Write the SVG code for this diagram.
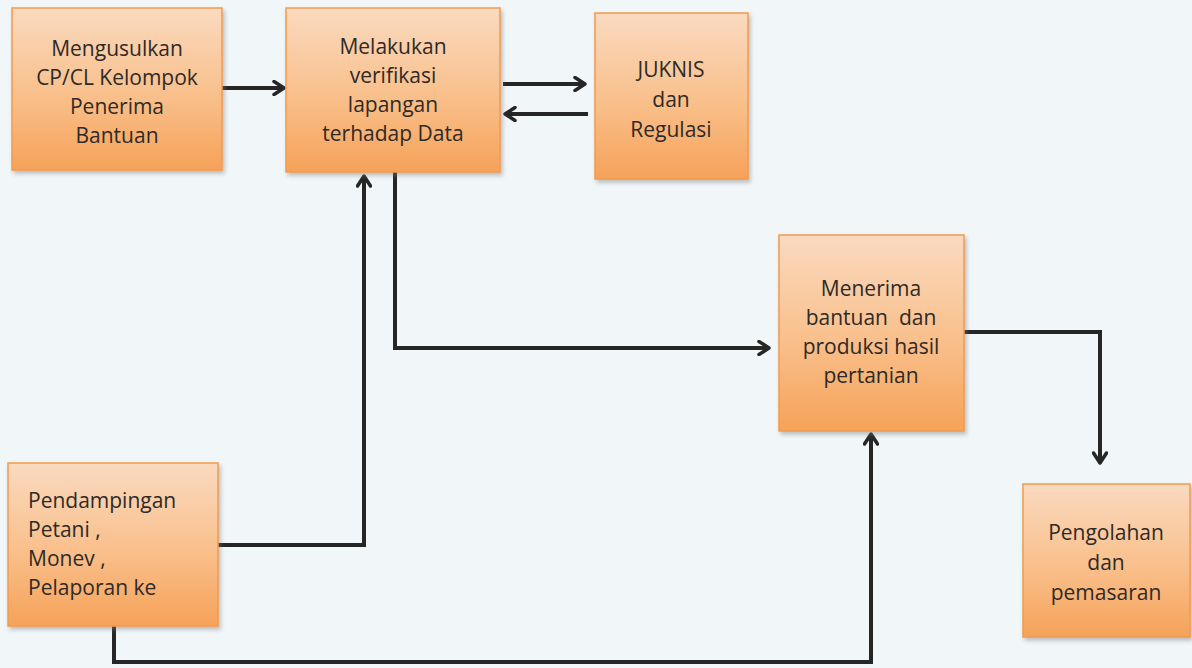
<svg xmlns="http://www.w3.org/2000/svg" width="1192" height="668" viewBox="0 0 1192 668">
  <defs>
    <linearGradient id="boxFill" x1="0" y1="0" x2="0" y2="1">
      <stop offset="0" stop-color="#fadac0"/>
      <stop offset="0.55" stop-color="#f9bf8a"/>
      <stop offset="1" stop-color="#f6a259"/>
    </linearGradient>
    <filter id="shadow" x="-10%" y="-10%" width="125%" height="125%">
      <feDropShadow dx="2" dy="3" stdDeviation="2" flood-color="#7a7a7a" flood-opacity="0.45"/>
    </filter>
    <marker id="arrow" viewBox="0 0 14 16" refX="12" refY="8" markerWidth="14" markerHeight="16" markerUnits="userSpaceOnUse" orient="auto">
      <path d="M2,1.5 L12,8 L2,14.5" fill="none" stroke="#262626" stroke-width="3.5" stroke-linecap="round" stroke-linejoin="round"/>
    </marker>
    <style>
      .box { fill: url(#boxFill); stroke: #f39a4c; stroke-width: 1.5; filter: url(#shadow); }
      .lbl { font-family: "Open Sans", "Liberation Sans", sans-serif; font-size: 21px; fill: #2e2a27; }
      .mid { text-anchor: middle; }
      .wire { fill: none; stroke: #262626; stroke-width: 4; stroke-linejoin: miter; }
      .wire.head { marker-end: url(#arrow); }
    </style>
  </defs>

  <!-- backdrop -->
  <rect width="1192" height="668" fill="#f1f6f9"/>

  <!-- connectors -->
  <g id="connectors">
    <path class="wire head" d="M222,88 H284"/>
    <path class="wire head" d="M503,84 H585"/>
    <path class="wire head" d="M588,114 H505"/>
    <path class="wire head" d="M395,172 V348 H769"/>
    <path class="wire head" d="M218,545 H364 V176"/>
    <path class="wire head" d="M114,626 V662 H871 V434"/>
    <path class="wire head" d="M964,332 H1100 V463"/>
  </g>

  <!-- Mengusulkan -->
  <g id="node-usulan">
    <rect class="box" x="12" y="8" width="210" height="162"/>
    <text class="lbl mid" x="117" y="56">Mengusulkan</text>
    <text class="lbl mid" x="117" y="85">CP/CL Kelompok</text>
    <text class="lbl mid" x="117" y="114">Penerima</text>
    <text class="lbl mid" x="117" y="143">Bantuan</text>
  </g>

  <!-- Verifikasi -->
  <g id="node-verifikasi">
    <rect class="box" x="286" y="8" width="214" height="164"/>
    <text class="lbl mid" x="393" y="54">Melakukan</text>
    <text class="lbl mid" x="393" y="83">verifikasi</text>
    <text class="lbl mid" x="393" y="112">lapangan</text>
    <text class="lbl mid" x="393" y="141">terhadap Data</text>
  </g>

  <!-- JUKNIS -->
  <g id="node-juknis">
    <rect class="box" x="595" y="13" width="153" height="166"/>
    <text class="lbl mid" x="671" y="77">JUKNIS</text>
    <text class="lbl mid" x="671" y="107">dan</text>
    <text class="lbl mid" x="671" y="137">Regulasi</text>
  </g>

  <!-- Menerima bantuan -->
  <g id="node-produksi">
    <rect class="box" x="779" y="235" width="185" height="196"/>
    <text class="lbl mid" x="871" y="296">Menerima</text>
    <text class="lbl mid" x="871" y="325" xml:space="preserve">bantuan  dan</text>
    <text class="lbl mid" x="871" y="354">produksi hasil</text>
    <text class="lbl mid" x="871" y="383">pertanian</text>
  </g>

  <!-- Pendampingan -->
  <g id="node-pendampingan">
    <rect class="box" x="8" y="463" width="210" height="163"/>
    <text class="lbl" x="28" y="508">Pendampingan</text>
    <text class="lbl" x="28" y="537">Petani ,</text>
    <text class="lbl" x="28" y="566">Monev ,</text>
    <text class="lbl" x="28" y="595">Pelaporan ke</text>
  </g>

  <!-- Pengolahan -->
  <g id="node-pengolahan">
    <rect class="box" x="1023" y="484" width="167" height="153"/>
    <text class="lbl mid" x="1106" y="540">Pengolahan</text>
    <text class="lbl mid" x="1106" y="570">dan</text>
    <text class="lbl mid" x="1106" y="600">pemasaran</text>
  </g>
</svg>
